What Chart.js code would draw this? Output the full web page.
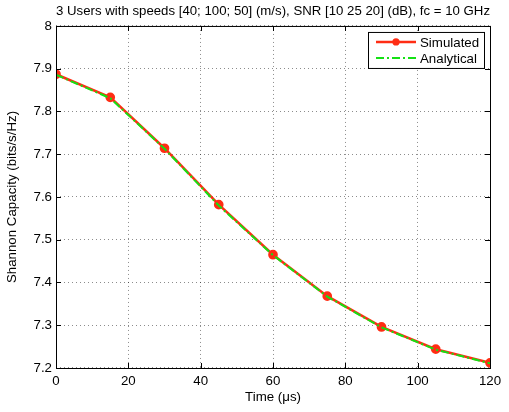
<!DOCTYPE html>
<html>
<head>
<meta charset="utf-8">
<script src="https://cdn.jsdelivr.net/npm/chart.js@4.4.1/dist/chart.umd.min.js"></script>
<style>
  html, body { margin: 0; padding: 0; background: #fff; }
  #wrap { width: 509px; height: 412px; }
</style>
</head>
<body>
<div id="wrap"><canvas id="mycanvas"></canvas></div>
<script>
// values
var czas = [0, 15, 30, 45, 60, 75, 90, 105, 120];
var symulacja = [7.887, 7.833, 7.714, 7.582, 7.465, 7.368, 7.296, 7.244, 7.212];
var analityczne = [7.886, 7.831, 7.713, 7.580, 7.464, 7.367, 7.295, 7.243, 7.211];
var xTicks = [0, 20, 40, 60, 80, 100, 120];
var yTicks = [7.2, 7.3, 7.4, 7.5, 7.6, 7.7, 7.8, 7.9, 8];

var FONT = 'Helvetica, "Liberation Sans", Arial, sans-serif';
var FS = 13.3;
var RED = 'rgb(255,45,20)';
var GREEN = 'rgb(20,225,20)';

function punkty(ys) {
	var out = [];
	for (var i = 0; i < czas.length; i++) out.push({x: czas[i], y: ys[i]});
	return out;
}

// box round the axes, inward ticks, legend
var ramka = {
	id: 'ramka',
	afterDraw: function(chart) {
		var c = chart.ctx, a = chart.chartArea;
		var sx = chart.scales.x, sy = chart.scales.y;
		c.save();
		c.strokeStyle = '#000';
		c.lineWidth = 1;
		c.strokeRect(a.left + 0.5, a.top + 0.5, a.right - a.left, a.bottom - a.top);
		c.beginPath();
		xTicks.forEach(function(v) {
			var px = Math.round(sx.getPixelForValue(v)) + 0.5;
			c.moveTo(px, a.bottom); c.lineTo(px, a.bottom - 5);
			c.moveTo(px, a.top); c.lineTo(px, a.top + 5);
		});
		yTicks.forEach(function(v) {
			var py = Math.round(sy.getPixelForValue(v)) + 0.5;
			c.moveTo(a.left, py); c.lineTo(a.left + 5, py);
			c.moveTo(a.right, py); c.lineTo(a.right - 5, py);
		});
		c.stroke();

		// legend
		var lx = a.right - 122, ly = a.top + 6, lw = 116, lh = 36;
		c.fillStyle = '#fff';
		c.fillRect(lx, ly, lw, lh);
		c.lineWidth = 1;
		c.strokeStyle = '#000';
		c.strokeRect(lx + 0.5, ly + 0.5, lw, lh);
		var ds = chart.data.datasets;
		var rows = [ds[1], ds[0]];
		rows.forEach(function(d, i) {
			var yy = ly + 10 + i * 16;
			c.beginPath();
			c.strokeStyle = d.borderColor;
			c.lineWidth = d.borderWidth;
			c.setLineDash(d.borderDash || []);
			c.moveTo(lx + 8, yy); c.lineTo(lx + 48, yy);
			c.stroke();
			c.setLineDash([]);
			if (d.pointRadius > 0) {
				c.beginPath();
				c.fillStyle = d.pointBackgroundColor;
				c.arc(lx + 28, yy, d.pointRadius, 0, Math.PI * 2);
				c.fill();
			}
			c.fillStyle = '#000';
			c.font = FS + 'px ' + FONT;
			c.textBaseline = 'middle';
			c.textAlign = 'left';
			c.fillText(d.label, lx + 52, yy + 1);
		});
		c.restore();
	}
};

var ctx = document.getElementById('mycanvas');
var wykres = new Chart(ctx, {
	type: 'line',
	data: {
		datasets: [
			{
				label: 'Analytical',
				data: punkty(analityczne),
				borderColor: GREEN,
				backgroundColor: GREEN,
				borderWidth: 2,
				borderDash: [8, 3, 2, 3],
				pointRadius: 0,
				order: 0
			},
			{
				label: 'Simulated',
				data: punkty(symulacja),
				borderColor: RED,
				backgroundColor: RED,
				pointBackgroundColor: RED,
				pointBorderColor: RED,
				borderWidth: 2.5,
				pointRadius: 3.6,
				order: 1
			}
		]
	},
	options: {
		responsive: true,
		maintainAspectRatio: false,
		animation: false,
		layout: { padding: { left: 0, right: 19, top: 0, bottom: 0 } },
		plugins: {
			legend: { display: false },
			tooltip: { enabled: false },
			title: {
				display: true,
				fullSize: false,
				text: '3 Users with speeds [40; 100; 50] (m/s), SNR [10 25 20] (dB), fc = 10 GHz',
				color: '#000',
				font: { family: FONT, size: FS, weight: 'normal', lineHeight: 1.2 },
				padding: { top: 3, bottom: 7 }
			}
		},
		scales: {
			x: {
				type: 'linear',
				min: 0, max: 120,
				afterBuildTicks: function(s) { s.ticks = xTicks.map(function(v) { return {value: v}; }); },
				afterFit: function(s) { s.height = 44; },
				ticks: { color: '#000', font: { family: FONT, size: FS }, padding: 5, maxRotation: 0 },
				grid: { color: 'rgba(0,0,0,0.45)', drawTicks: false, lineWidth: 1 },
				border: { display: false, dash: [1, 3] },
				title: {
					display: true, text: 'Time (\u03bcs)', color: '#000',
					font: { family: FONT, size: FS, lineHeight: 1.2 },
					padding: { top: 0, bottom: 7 }
				}
			},
			y: {
				min: 7.2, max: 8,
				afterBuildTicks: function(s) { s.ticks = yTicks.map(function(v) { return {value: v}; }); },
				afterFit: function(s) { s.width = 56; },
				ticks: {
					color: '#000', font: { family: FONT, size: FS }, padding: 4,
					callback: function(v) { return Math.round(v * 10) / 10 + ''; }
				},
				grid: { color: 'rgba(0,0,0,0.45)', drawTicks: false, lineWidth: 1 },
				border: { display: false, dash: [1, 3] },
				title: {
					display: true, text: 'Shannon Capacity (bits/s/Hz)', color: '#000',
					font: { family: FONT, size: FS, lineHeight: 1.2 },
					padding: { top: 4, bottom: 0 }
				}
			}
		}
	},
	plugins: [ramka]
});
</script>
</body>
</html>
